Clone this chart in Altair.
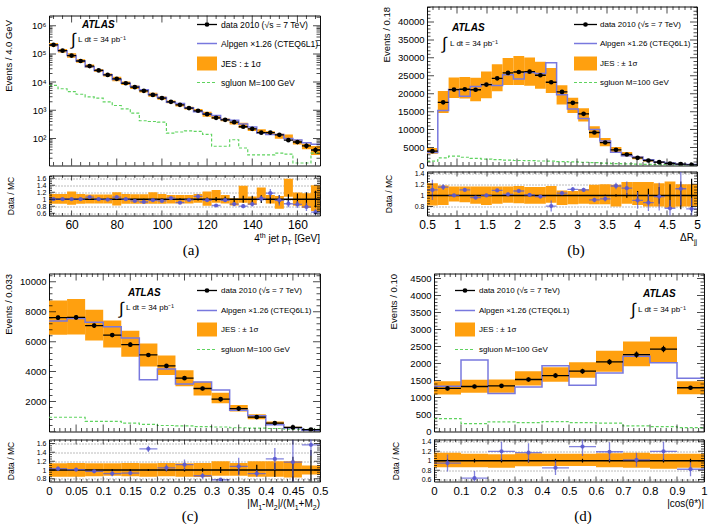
import numpy as np
import pandas as pd
import altair as alt

FONT = "Liberation Sans"
SERIF = "Liberation Serif"
ORANGE = "#ffa00f"
MC_BLUE = "#7878de"
RATIO_BLUE = "#5a5ad2"
SG_GREEN = "#5fd35f"

# ---------------- (a) 4th jet pT, 4 GeV bins ----------------
a_lo = list(range(50, 170, 4))
a_data = [2.1e5, 1.3e5, 8.7e4, 5.6e4, 3.7e4, 2.6e4, 1.8e4, 1.3e4, 9.1e3, 6.6e3,
          4.9e3, 3.5e3, 2.7e3, 2.0e3, 1.56e3, 1.2e3, 960, 730, 540, 460,
          380, 260, 220, 160, 162, 135, 87, 75, 55, 39]
a_ratio = [1.0, 1.0, 1.0, 1.0, 1.06, 1.0, 0.99, 1.06, 1.0, 0.95,
           0.92, 0.97, 0.95, 1.03, 0.9, 0.98, 1.08, 0.97, 0.82, 0.97,
           0.86, 0.8, 0.86, 1.02, 1.17, 0.97, 0.87, 0.85, 0.78, 0.63]
a_err = [0.003, 0.004, 0.005, 0.005, 0.006, 0.007, 0.008, 0.01, 0.011, 0.013,
         0.015, 0.017, 0.02, 0.023, 0.026, 0.03, 0.04, 0.05, 0.06, 0.08,
         0.09, 0.1, 0.1, 0.11, 0.12, 0.12, 0.14, 0.16, 0.2, 0.24]
a_mcerr = [0.01, 0.01, 0.012, 0.015, 0.03, 0.02, 0.02, 0.03, 0.02, 0.03,
           0.03, 0.03, 0.04, 0.03, 0.04, 0.04, 0.05, 0.05, 0.04, 0.05,
           0.06, 0.06, 0.07, 0.08, 0.12, 0.15, 0.1, 0.1, 0.12, 0.1]
a_jes_lo = [0.87, 0.87, 0.84, 0.87, 0.88, 0.88, 0.88, 0.82, 0.87, 0.87,
            0.87, 0.87, 0.87, 0.88, 0.88, 0.88, 0.9, 0.81, 0.9, 0.88,
            0.82, 0.9, 0.84, 0.98, 0.88, 0.73, 1.07, 0.81, 0.75, 0.66]
a_jes_hi = [1.15, 1.15, 1.22, 1.15, 1.13, 1.13, 1.13, 1.2, 1.15, 1.14,
            1.14, 1.2, 1.15, 1.12, 1.12, 1.12, 1.15, 1.22, 1.26, 1.12,
            1.03, 1.38, 1.08, 1.33, 1.12, 1.09, 1.58, 1.19, 1.17, 1.4]
a_sgluon = [7600, 5800, 4600, 3700, 3000, 2700, 2000, 1480, 1130, 790,
            425, 400, 380, 155, 170, 186, 180, 140, 53, 53,
            90, 46, 26, 26, 26, 30, 28, 13.5, 13.5, 30]

# ---------------- (b) Delta R_jj, 0.18 bins ----------------
b_lo = [0.5 + 0.18 * i for i in range(25)]
b_data = [4000, 17600, 21150, 21250, 21100, 22550, 24300, 25800, 26050, 26150,
          25150, 23200, 20500, 17450, 14400, 9200, 6400, 4360, 3060, 2130,
          1390, 930, 560, 370, 190]
b_ratio = [1.10, 1.15, 1.0, 1.10, 0.96, 1.0, 1.09, 1.02, 1.08, 1.01,
           0.98, 0.81, 1.04, 1.11, 1.10, 0.92, 0.94, 1.17, 1.13, 0.91,
           0.87, 0.98, 0.77, 1.12, 0.76]
b_err = [0.02, 0.008, 0.007, 0.007, 0.007, 0.007, 0.006, 0.006, 0.006, 0.006,
         0.006, 0.007, 0.007, 0.008, 0.008, 0.01, 0.012, 0.02, 0.04, 0.08,
         0.12, 0.15, 0.2, 0.25, 0.3]
b_mcerr = [0.18, 0.05, 0.03, 0.03, 0.03, 0.03, 0.03, 0.03, 0.03, 0.03,
           0.03, 0.1, 0.03, 0.04, 0.04, 0.04, 0.05, 0.06, 0.12, 0.15,
           0.15, 0.25, 0.15, 0.3, 0.2]
b_jes_lo = [0.82, 0.83, 0.89, 0.88, 0.85, 0.83, 0.85, 0.87, 0.86, 0.85,
            0.85, 0.87, 0.83, 0.84, 0.85, 0.84, 0.84, 0.80, 0.85, 0.83,
            0.80, 0.80, 0.78, 0.8, 0.8]
b_jes_hi = [1.22, 1.18, 1.16, 1.16, 1.16, 1.16, 1.16, 1.16, 1.17, 1.15,
            1.15, 1.17, 1.09, 1.08, 1.11, 1.19, 1.2, 1.19, 1.24, 1.24,
            1.24, 1.22, 1.25, 1.2, 1.2]
b_sgluon = [1200, 2100, 2600, 2300, 2000, 1800, 1650, 1500, 1400, 1350,
            1250, 1200, 1100, 1000, 900, 800, 650, 550, 450, 370,
            300, 220, 170, 120, 90]

# ---------------- (c) mass asymmetry, 1/30 bins ----------------
c_lo = [i / 30 for i in range(15)]
c_data = [7600, 7620, 7070, 6440, 5800, 5110, 4380, 3560, 2870, 2160,
          1530, 960, 560, 270, 130]
c_ratio = [1.03, 1.01, 0.97, 0.92, 0.93, 1.48, 1.05, 1.12, 0.87, 0.78,
           1.08, 0.92, 1.25, 1.18, 1.57]
c_err = [0.02, 0.02, 0.02, 0.02, 0.025, 0.025, 0.03, 0.035, 0.04, 0.07,
         0.1, 0.12, 0.16, 0.3, 0.45]
c_mcerr = [0.05, 0.04, 0.04, 0.06, 0.05, 0.07, 0.08, 0.12, 0.07, 0.03,
           0.2, 0.08, 0.25, 0.5, 0.25]
c_jes_lo = [0.85, 0.85, 0.86, 0.87, 0.86, 0.85, 0.86, 0.85, 0.84, 0.87,
            0.87, 0.85, 0.85, 0.83, 0.9]
c_jes_hi = [1.15, 1.16, 1.15, 1.15, 1.16, 1.15, 1.16, 1.15, 1.16, 1.2,
            1.16, 1.2, 1.2, 1.2, 1.1]
c_sgluon = [950, 950, 680, 670, 560, 480, 400, 380, 330, 300,
            250, 220, 200, 160, 140]

# ---------------- (d) |cos(theta*)|, 0.1 bins ----------------
d_lo = [i / 10 for i in range(10)]
d_data = [1267, 1325, 1345, 1530, 1647, 1774, 2047, 2261, 2427, 1287]
d_ratio = [0.95, 0.63, 1.2, 1.17, 0.85, 1.3, 1.19, 1.02, 1.2, 0.82]
d_err = [0.04, 0.04, 0.04, 0.04, 0.04, 0.04, 0.04, 0.04, 0.04, 0.04]
d_mcerr = [0.18, 0.15, 0.2, 0.2, 0.15, 0.2, 0.2, 0.15, 0.2, 0.15]
d_jes_lo = [0.86, 0.86, 0.85, 0.885, 0.89, 0.89, 0.86, 0.85, 0.83, 0.85]
d_jes_hi = [1.17, 1.15, 1.14, 1.16, 1.15, 1.15, 1.16, 1.17, 1.15, 1.15]
d_sgluon = [380, 234, 283, 263, 292, 263, 244, 166, 146, 117]

LEGEND_TEXT = ["data 2010 (\u221as = 7 TeV)", "Alpgen \u00d71.26 (CTEQ6L1)",
               "JES : \u00b1 1\u03c3", "sgluon M=100 GeV"]

one = pd.DataFrame({"k": [0]})

# Arial-metric advance widths (1/1000 em) for laying out sub/superscript titles
CHAR_W = {"4": 556, "t": 278, "h": 556, " ": 278, "j": 222, "e": 556, "p": 556,
          "T": 611, "[": 278, "G": 778, "V": 667, "]": 278, "\u0394": 668,
          "R": 722, "|": 260, "M": 833, "1": 556, "2": 556, "-": 333, "/": 278,
          "(": 333, "+": 584, ")": 333, "c": 500, "o": 556, "s": 500,
          "\u03b8": 556, "*": 389}


def text_width(s, size):
    return sum(CHAR_W.get(ch, 556) for ch in s) * size / 1000.0


def txt(s, x, y, size, align="left", baseline="middle", font=FONT,
        style=None, weight=None):
    kw = dict(text=s, fontSize=size, align=align, baseline=baseline,
              font=font, color="black")
    if style:
        kw["fontStyle"] = style
    if weight:
        kw["fontWeight"] = weight
    return alt.Chart(one).mark_text(**kw).encode(x=alt.value(x), y=alt.value(y))


def hrule(x0, x1, y, color, width=1.0, dash=None):
    kw = dict(color=color, strokeWidth=width)
    if dash:
        kw["strokeDash"] = dash
    return alt.Chart(one).mark_rule(**kw).encode(
        x=alt.value(x0), x2=alt.value(x1), y=alt.value(y))


def steps(lo, hi, step):
    start = np.ceil(lo / step - 1e-9) * step
    return [round(float(v), 6) for v in np.arange(start, hi + 1e-9, step)]


def tick_frame(major, minor, lmaj, lmin):
    major = [float(v) for v in major]
    minor = [float(v) for v in minor
             if min(abs(v - m) for m in major) > 1e-9 * max(1.0, abs(v))]
    return pd.DataFrame({"v": major + minor,
                         "len": [2 * lmaj] * len(major) + [2 * lmin] * len(minor)})


def tick_layers(xt, yt, X, Y, w, h):
    size = alt.Size("len:Q", scale=None, legend=None)
    out = []
    for yy in (0, h):
        out.append(alt.Chart(xt).mark_tick(orient="vertical", clip=True, color="black",
                                           thickness=1).encode(x=X("v"), y=alt.value(yy), size=size))
    for xx in (0, w):
        out.append(alt.Chart(yt).mark_tick(orient="horizontal", clip=True, color="black",
                                           thickness=1).encode(y=Y("v"), x=alt.value(xx), size=size))
    return out


def panel(p):
    w, h, rh = p["w"], p["h"], p["rh"]
    width = p["bw"]
    df = pd.DataFrame({"lo": p["lo"], "data": p["data"], "ratio": p["ratio"],
                       "err": p["err"], "mcerr": p["mcerr"],
                       "jlo": p["jes_lo"], "jhi": p["jes_hi"], "sg": p["sg"]})
    df["hi"] = df["lo"] + width
    df["mid"] = df["lo"] + width / 2
    df["mc"] = df["data"] / df["ratio"]
    df["band_lo"] = df["data"] * df["jlo"]
    df["band_hi"] = df["data"] * df["jhi"]
    df["dlo"] = df["data"] * (1 - df["err"])
    df["dhi"] = df["data"] * (1 + df["err"])
    df["elo"] = 1 - df["err"]
    df["ehi"] = 1 + df["err"]
    df["rlo"] = df["ratio"] - df["mcerr"]
    df["rhi"] = df["ratio"] + df["mcerr"]

    step = pd.DataFrame({"edge": list(df["lo"]) + [df["hi"].iloc[-1]],
                         "mc": list(df["mc"]) + [df["mc"].iloc[-1]],
                         "sg": list(df["sg"]) + [df["sg"].iloc[-1]]})

    xsc = alt.Scale(domain=p["xdom"], nice=False, zero=False)
    if p["log"]:
        ysc = alt.Scale(type="log", domain=p["ydom"], nice=False)
    else:
        ysc = alt.Scale(domain=p["ydom"], nice=False, zero=False)
    ykw = dict(values=p["ylabels"], labelFontSize=9.5, labelPadding=3, ticks=False,
               domain=False, grid=False, labelOverlap=False,
               title=p["ytitle"], titleFontSize=9.5, titleFontWeight="normal",
               titleAngle=270, titleAlign="right", titleBaseline="alphabetic",
               titleX=-37.5, titleY=p["ytitleY"])
    if p["log"]:
        ykw["labelExpr"] = ("datum.value == 100 ? '10\u00b2' : datum.value == 1000 ? '10\u00b3' : "
                            "datum.value == 10000 ? '10\u2074' : datum.value == 100000 ? '10\u2075' : '10\u2076'")
    else:
        ykw["format"] = "d"
    yaxis = alt.Axis(**ykw)

    def X(f):
        return alt.X(f, type="quantitative", scale=xsc, axis=None)

    def Y(f):
        return alt.Y(f, type="quantitative", scale=ysc, axis=yaxis)

    main_layers = [
        alt.Chart(df).mark_rect(color=ORANGE, clip=True).encode(
            x=X("lo"), x2="hi", y=Y("band_lo"), y2="band_hi"),
        alt.Chart(step).mark_line(interpolate="step-after", color=SG_GREEN, strokeWidth=1.2,
                                  strokeDash=[3, 2], clip=True).encode(x=X("edge"), y=Y("sg")),
        alt.Chart(step).mark_line(interpolate="step-after", color=MC_BLUE, strokeWidth=1.5,
                                  clip=True).encode(x=X("edge"), y=Y("mc")),
        alt.Chart(df).mark_rule(color="black", strokeWidth=1.3, clip=True).encode(
            x=X("lo"), x2="hi", y=Y("data")),
        alt.Chart(df).mark_rule(color="black", strokeWidth=1.2, clip=True).encode(
            x=X("mid"), y=Y("dlo"), y2="dhi"),
        alt.Chart(df).mark_point(filled=True, color="black", size=22, opacity=1,
                                 clip=True).encode(x=X("mid"), y=Y("data")),
    ]
    main_layers += tick_layers(p["xticks"], p["yticks"], X, Y, w, h)

    # legend
    lx0, lx1, tx = p["leg_x"]
    rows = p["leg_rows"]
    fs = p["leg_fs"]
    main_layers += [
        hrule(lx0, lx1, rows[0], "black", 1.3),
        alt.Chart(one).mark_point(filled=True, color="black", size=22, opacity=1).encode(
            x=alt.value((lx0 + lx1) / 2), y=alt.value(rows[0])),
        hrule(lx0, lx1, rows[1], MC_BLUE, 1.5),
        alt.Chart(one).mark_rect(color=ORANGE).encode(
            x=alt.value(lx0), x2=alt.value(lx1),
            y=alt.value(rows[2] - 7), y2=alt.value(rows[2] + 7)),
        hrule(lx0, lx1, rows[3], SG_GREEN, 1.2, [3, 2]),
    ]
    for label, ry in zip(LEGEND_TEXT, rows):
        main_layers.append(txt(label, tx, ry, fs))

    # experiment label and luminosity
    ax, ay = p["atlas"]
    ix, iy = p["integral"]
    lxx, lyy = p["lumi"]
    main_layers += [
        txt("ATLAS", ax, ay, 10, style="italic", weight="bold"),
        txt("\u222b", ix, iy, 17),
        txt("L dt = 34 pb\u207b\u00b9", lxx, lyy, 8),
    ]

    main = alt.layer(*main_layers).properties(width=w, height=h)

    # ---------------- ratio panel ----------------
    rsc = alt.Scale(domain=p["rdom"], nice=False, zero=False)
    xaxis = alt.Axis(values=p["xlabels"], format=p["xfmt"], labelFontSize=p["xl_fs"],
                     labelPadding=4, ticks=False, domain=False, grid=False,
                     labelFlush=False, labelOverlap=False, title=None)
    raxis = alt.Axis(values=p["rlabels"], format=".1~f", labelFontSize=7, labelPadding=3,
                     ticks=False, domain=False, grid=True, gridDash=[1, 2],
                     gridColor="#555555", gridWidth=0.8, labelOverlap=False,
                     title="Data / MC", titleFontSize=8.5, titleFontWeight="normal",
                     titleAngle=270, titleAlign="center", titleBaseline="alphabetic",
                     titleX=-35.5, titleY=rh / 2)

    def RX(f):
        return alt.X(f, type="quantitative", scale=xsc, axis=xaxis)

    def RY(f):
        return alt.Y(f, type="quantitative", scale=rsc, axis=raxis)

    unity = pd.DataFrame({"one": [1.0]})
    ratio_layers = [
        alt.Chart(df).mark_rect(color=ORANGE, clip=True).encode(
            x=RX("lo"), x2="hi", y=RY("jlo"), y2="jhi"),
        alt.Chart(unity).mark_rule(color="black", strokeWidth=1.5).encode(
            y=RY("one"), x=alt.value(0), x2=alt.value(w)),
        alt.Chart(df).mark_rule(color="black", strokeWidth=1.2, clip=True).encode(
            x=RX("mid"), y=RY("elo"), y2="ehi"),
        alt.Chart(df).mark_rule(color=RATIO_BLUE, strokeWidth=1.3, opacity=0.75,
                                clip=True).encode(x=RX("lo"), x2="hi", y=RY("ratio")),
        alt.Chart(df).mark_rule(color=RATIO_BLUE, strokeWidth=1.3, opacity=0.75,
                                clip=True).encode(x=RX("mid"), y=RY("rlo"), y2="rhi"),
        alt.Chart(df).mark_point(filled=True, color=RATIO_BLUE, size=18, opacity=0.9,
                                 clip=True).encode(x=RX("mid"), y=RY("ratio")),
    ]
    ratio_layers += tick_layers(p["rxticks"], p["ryticks"], RX, RY, w, rh)

    # x-axis title built from pieces so sub/superscripts sit correctly
    x = w
    base = rh + p["xt_dy"] + 3.5
    for piece, size, dy in reversed(p["xtitle"]):
        ratio_layers.append(txt(piece, x, base + dy, size, align="right",
                                baseline="alphabetic"))
        x -= text_width(piece, size)
    ratio_layers.append(txt(p["caption"], p["cap_x"], rh + 34, 15, align="center",
                            font=SERIF))

    ratio = alt.layer(*ratio_layers).properties(width=w, height=rh)
    return alt.vconcat(main, ratio, spacing=p["gap"], bounds="flush")


log_major = [1e2, 1e3, 1e4, 1e5, 1e6]
log_minor = [m * 10 ** k for k in range(1, 7) for m in range(2, 10)
             if 11 <= m * 10 ** k <= 2.3e6]

PA = dict(lo=a_lo, bw=4, data=a_data, ratio=a_ratio, err=a_err, mcerr=a_mcerr,
          jes_lo=a_jes_lo, jes_hi=a_jes_hi, sg=a_sgluon,
          w=271, h=150, rh=40, gap=10, xdom=[50, 170], log=True, ydom=[11, 2.3e6],
          ylabels=log_major, ytitle="Events / 4.0 GeV", ytitleY=4,
          rdom=[0.535, 1.675], rlabels=[0.6, 0.8, 1.0, 1.2, 1.4, 1.6],
          xlabels=list(range(60, 161, 20)), xfmt="d", xl_fs=12,
          xticks=tick_frame(steps(50, 170, 20), steps(50, 170, 4), 7, 3.5),
          yticks=tick_frame(log_major, log_minor, 7, 3.5),
          rxticks=tick_frame(steps(50, 170, 20), steps(50, 170, 4), 5, 2.5),
          ryticks=tick_frame(steps(0.535, 1.675, 0.2), steps(0.535, 1.675, 0.05), 6, 3),
          leg_x=(148, 168, 172), leg_rows=[9, 28, 48, 67], leg_fs=8.6,
          atlas=(33, 9), integral=(22, 24), lumi=(29, 24),
          xtitle=[("4", 10, 0), ("th", 7, -4), (" jet p", 10, 0), ("T", 7, 3),
                  (" [GeV]", 10, 0)],
          xt_dy=23, caption="(a)", cap_x=142)

PB = dict(lo=b_lo, bw=0.18, data=b_data, ratio=b_ratio, err=b_err, mcerr=b_mcerr,
          jes_lo=b_jes_lo, jes_hi=b_jes_hi, sg=b_sgluon,
          w=270, h=159, rh=44, gap=6, xdom=[0.5, 5.0], log=False, ydom=[0, 44300],
          ylabels=steps(0, 40000, 5000), ytitle="Events / 0.18", ytitleY=0,
          rdom=[0.64, 1.43], rlabels=[0.8, 1.0, 1.2, 1.4],
          xlabels=steps(0.5, 5.0, 0.5), xfmt=".1~f", xl_fs=12,
          xticks=tick_frame(steps(0.5, 5, 0.5), steps(0.5, 5, 0.1), 7, 3.5),
          yticks=tick_frame(steps(0, 44300, 5000), steps(0, 44300, 1000), 7, 3.5),
          rxticks=tick_frame(steps(0.5, 5, 0.5), steps(0.5, 5, 0.1), 5, 2.5),
          ryticks=tick_frame(steps(0.64, 1.43, 0.2), steps(0.64, 1.43, 0.05), 6, 3),
          leg_x=(147, 170, 173), leg_rows=[18, 37, 57, 76], leg_fs=8,
          atlas=(25, 21), integral=(15, 37), lumi=(23, 37),
          xtitle=[("\u0394R", 10, 0), ("jj", 7, 3)],
          xt_dy=22, caption="(b)", cap_x=149)

PC = dict(lo=c_lo, bw=1 / 30, data=c_data, ratio=c_ratio, err=c_err, mcerr=c_mcerr,
          jes_lo=c_jes_lo, jes_hi=c_jes_hi, sg=c_sgluon,
          w=271, h=158, rh=42, gap=8, xdom=[0, 0.5], log=False, ydom=[0, 10550],
          ylabels=steps(2000, 10000, 2000), ytitle="Events / 0.033", ytitleY=0,
          rdom=[0.74, 1.69], rlabels=[0.8, 1.0, 1.2, 1.4, 1.6],
          xlabels=steps(0, 0.5, 0.05), xfmt=".2~f", xl_fs=11.5,
          xticks=tick_frame(steps(0, 0.5, 0.05), steps(0, 0.5, 0.01), 7, 3.5),
          yticks=tick_frame(steps(0, 10550, 2000), steps(0, 10550, 400), 7, 3.5),
          rxticks=tick_frame(steps(0, 0.5, 0.05), steps(0, 0.5, 0.01), 5, 2.5),
          ryticks=tick_frame(steps(0.74, 1.69, 0.2), steps(0.74, 1.69, 0.05), 6, 3),
          leg_x=(148, 168, 172), leg_rows=[17, 37, 56, 76], leg_fs=8,
          atlas=(79, 19), integral=(70, 35), lumi=(77, 34),
          xtitle=[("|M", 10, 0), ("1", 7, 3), ("-M", 10, 0), ("2", 7, 3),
                  ("|/(M", 10, 0), ("1", 7, 3), ("+M", 10, 0), ("2", 7, 3),
                  (")", 10, 0)],
          xt_dy=22, caption="(c)", cap_x=141)

PD = dict(lo=d_lo, bw=0.1, data=d_data, ratio=d_ratio, err=d_err, mcerr=d_mcerr,
          jes_lo=d_jes_lo, jes_hi=d_jes_hi, sg=d_sgluon,
          w=270, h=158, rh=42, gap=8, xdom=[0, 1.0], log=False, ydom=[0, 4650],
          ylabels=steps(0, 4500, 500), ytitle="Events / 0.10", ytitleY=0,
          rdom=[0.56, 1.45], rlabels=[0.6, 0.8, 1.0, 1.2, 1.4],
          xlabels=steps(0, 1.0, 0.1), xfmt=".1~f", xl_fs=11.5,
          xticks=tick_frame(steps(0, 1, 0.1), steps(0, 1, 0.02), 7, 3.5),
          yticks=tick_frame(steps(0, 4650, 500), steps(0, 4650, 100), 7, 3.5),
          rxticks=tick_frame(steps(0, 1, 0.1), steps(0, 1, 0.02), 5, 2.5),
          ryticks=tick_frame(steps(0.56, 1.45, 0.2), steps(0.56, 1.45, 0.05), 6, 3),
          leg_x=(21, 41, 45), leg_rows=[17, 37, 56, 76], leg_fs=8,
          atlas=(209, 20), integral=(197, 36), lumi=(204, 36),
          xtitle=[("|cos(\u03b8*)|", 10, 0)],
          xt_dy=22, caption="(d)", cap_x=149)

# empty strip that lowers panel (a) within the top row
spacer = alt.Chart(one).mark_point(opacity=0).encode(
    x=alt.value(0), y=alt.value(0)).properties(
    width=271, height=7, view=alt.ViewBackground(stroke="transparent"))

col_a = alt.vconcat(spacer, panel(PA), spacing=0)
row1 = alt.hconcat(col_a, panel(PB), spacing=59)
row2 = alt.hconcat(panel(PC), panel(PD), spacing=59)

chart = alt.vconcat(row1, row2, spacing=14).properties(
    padding={"left": 3, "top": 2.5, "right": 0, "bottom": 0},
    background="white",
).configure_view(
    stroke="#111111", strokeWidth=1
).configure_axis(
    labelFont=FONT, titleFont=FONT, labelColor="black", titleColor="black"
).configure_text(font=FONT)

chart.save("out.html", embed_options={"renderer": "svg", "actions": False})
